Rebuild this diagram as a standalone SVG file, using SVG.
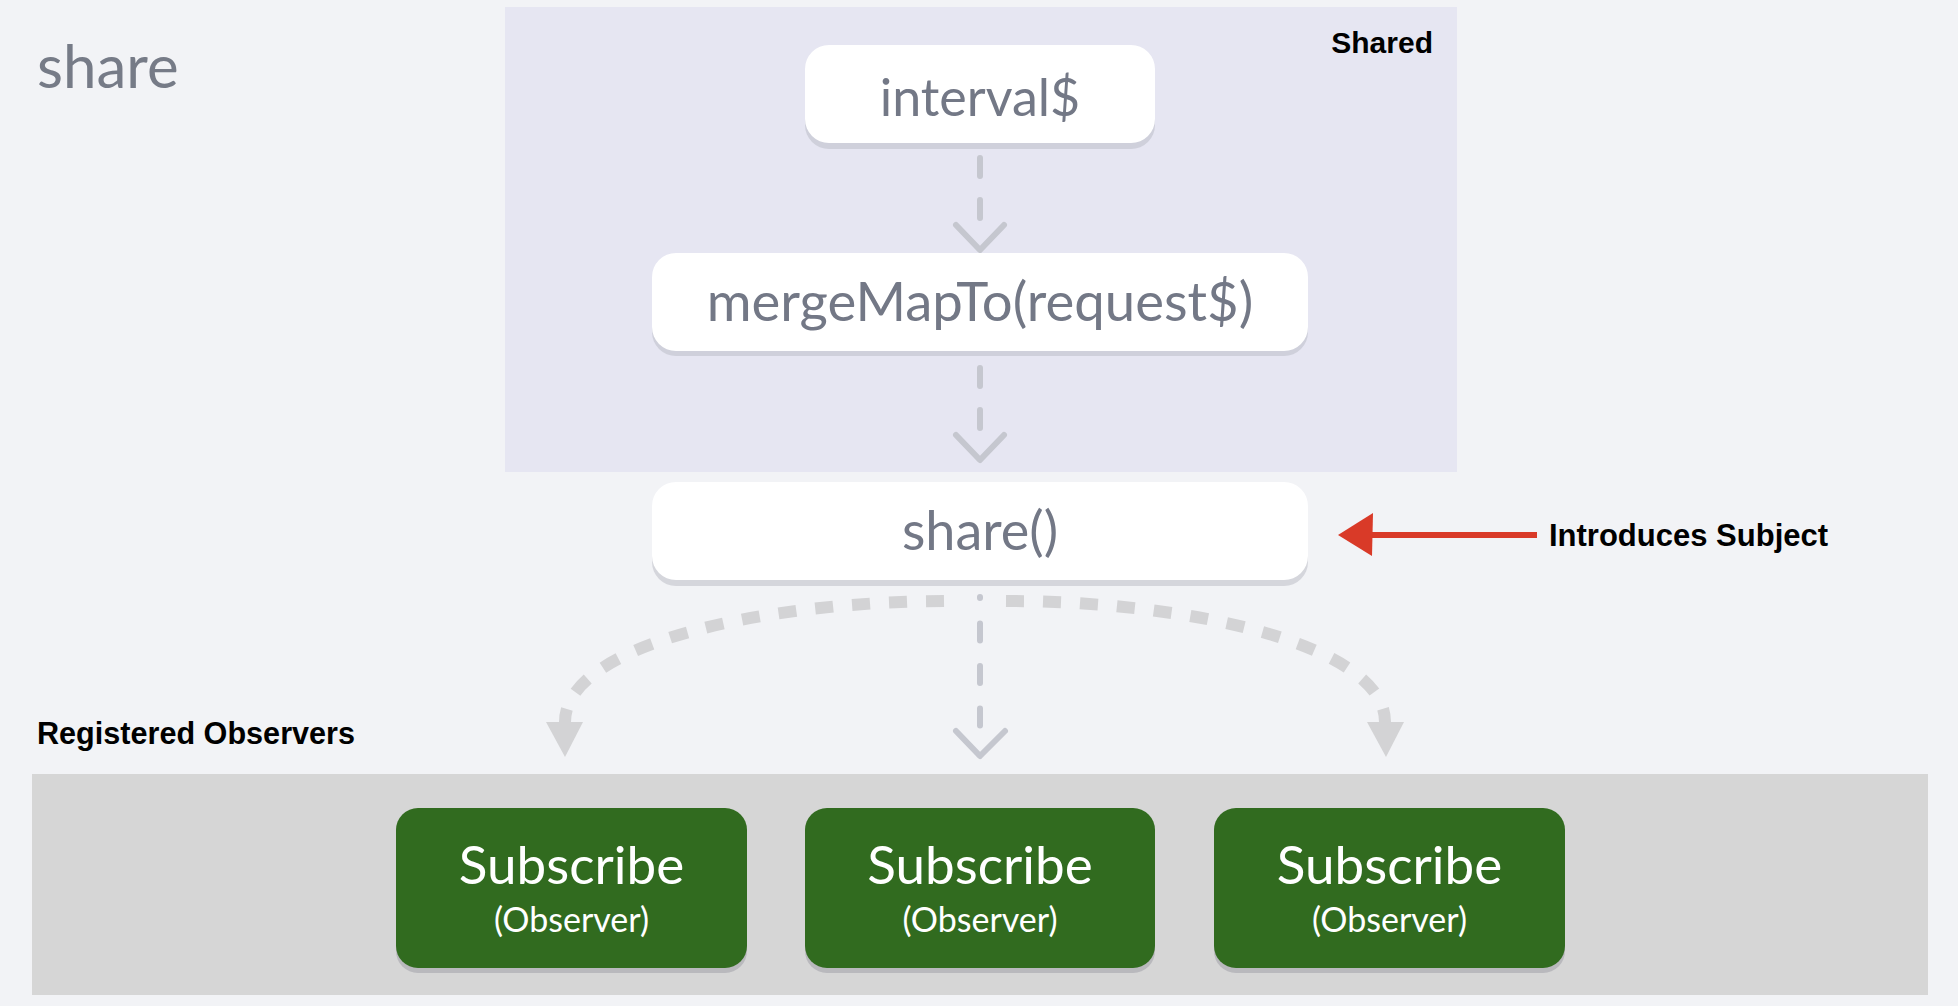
<svg xmlns="http://www.w3.org/2000/svg" width="1958" height="1006" viewBox="0 0 1958 1006">
<style>
.bg{fill:#f2f3f6}
.op{fill:#ffffff}
.opsh{fill:#cfd0db}
.optxt{font-family:Lato,"Open Sans",sans-serif;font-size:52px;fill:#737886;text-anchor:middle}
.lbl{font-family:"Liberation Sans",Arial,sans-serif;font-weight:bold;fill:#000000}
.sub{fill:#316b1f}
.subsh{fill:#b9b9bd}
.subt{font-family:Lato,"Open Sans",sans-serif;fill:#ffffff;text-anchor:middle}
.vdash{fill:none;stroke:#c5c7cf;stroke-width:6;stroke-linecap:round;stroke-dasharray:18 24}
.chev{fill:none;stroke:#c5c7cf;stroke-width:6;stroke-linecap:round;stroke-linejoin:round}
.arc{fill:none;stroke:#d3d3d5;stroke-width:12;stroke-dasharray:18 19}
.arch{fill:#d3d3d5}
</style>
<rect class="bg" x="0" y="0" width="1958" height="1006"/>
<g id="title">
<text x="37" y="88" font-family="Lato,'Open Sans',sans-serif" font-size="60" fill="#767b87">share</text>
</g>
<g id="shared-panel">
<rect x="505" y="7" width="952" height="465" fill="#e6e6f2"/>
<text class="lbl" x="1433" y="53" font-size="30" text-anchor="end">Shared</text>
</g>
<g id="observers-panel">
<text class="lbl" x="37" y="744" font-size="30.6">Registered Observers</text>
<rect x="32" y="774" width="1896" height="221" fill="#d6d6d6"/>
</g>
<g id="connectors">
<path class="vdash" d="M980 158 L980 219"/>
<polyline class="chev" points="956,225 980,250 1004,225"/>
<path class="vdash" d="M980 368 L980 429"/>
<polyline class="chev" points="956,435 980,460 1004,435"/>
<path class="vdash" d="M980 597 L980 728" style="stroke-dasharray:17 25.5;stroke-dashoffset:16"/>
<polyline class="chev" points="956,731 980,756 1005,731"/>
<path class="arc" d="M944 601 C760 602 565 645 565 722"/>
<polygon class="arch" points="546,722 583,722 565,757"/>
<path class="arc" d="M1006 601 C1190 601 1385 645 1385 722"/>
<polygon class="arch" points="1367,722 1404,722 1386,757"/>
<g id="red-arrow">
<path d="M1370 535 L1537 535" stroke="#d93a28" stroke-width="6" fill="none"/>
<polygon points="1338,535 1373,513 1372,556" fill="#d93a28"/>
</g>
</g>
<g id="node-interval">
<rect class="opsh" x="805" y="51" width="350" height="98" rx="24"/>
<rect class="op" x="805" y="45" width="350" height="98" rx="24"/>
<text class="optxt" x="980" y="116">interval$</text>
</g>
<g id="node-mergemap">
<rect class="opsh" x="652" y="258" width="656" height="98" rx="24"/>
<rect class="op" x="652" y="253" width="656" height="98" rx="24"/>
<text class="optxt" x="980" y="321" style="font-size:54.5px">mergeMapTo(request$)</text>
</g>
<g id="node-share">
<rect x="652" y="488" width="656" height="98" rx="24" fill="#d5d6dc"/>
<rect class="op" x="652" y="482" width="656" height="98" rx="24"/>
<text class="optxt" x="980" y="550" style="font-size:54px">share()</text>
</g>
<g id="introduces-label">
<text class="lbl" x="1549" y="546" font-size="31">Introduces Subject</text>
</g>
<g id="node-sub1">
<rect class="subsh" x="396" y="813" width="351" height="160" rx="22"/>
<rect class="sub" x="396" y="808" width="351" height="160" rx="22"/>
<text class="subt" x="571.5" y="884" font-size="53">Subscribe</text>
<text class="subt" x="571.5" y="932" font-size="34">(Observer)</text>
</g>
<g id="node-sub2">
<rect class="subsh" x="805" y="813" width="350" height="160" rx="22"/>
<rect class="sub" x="805" y="808" width="350" height="160" rx="22"/>
<text class="subt" x="980" y="884" font-size="53">Subscribe</text>
<text class="subt" x="980" y="932" font-size="34">(Observer)</text>
</g>
<g id="node-sub3">
<rect class="subsh" x="1214" y="813" width="351" height="160" rx="22"/>
<rect class="sub" x="1214" y="808" width="351" height="160" rx="22"/>
<text class="subt" x="1389.5" y="884" font-size="53">Subscribe</text>
<text class="subt" x="1389.5" y="932" font-size="34">(Observer)</text>
</g>
</svg>
